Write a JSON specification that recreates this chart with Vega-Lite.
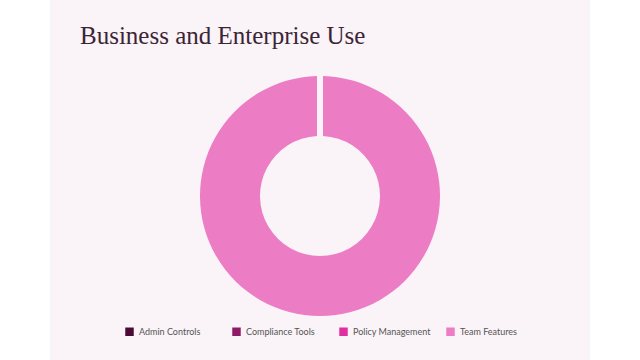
{
  "$schema": "https://vega.github.io/schema/vega-lite/v6.json",
  "width": 540,
  "height": 360,
  "autosize": "none",
  "padding": {"left": 50, "right": 50, "top": 0, "bottom": 0},
  "background": "#ffffff",
  "view": {"fill": "#faf3f7", "stroke": null},
  "config": {"view": {"fill": "#faf3f7", "stroke": null}, "style": {"cell": {"fill": "#faf3f7", "stroke": null}}},
  "title": {
    "text": "Business and Enterprise Use",
    "anchor": "start",
    "frame": "group",
    "orient": "top",
    "font": "Liberation Serif",
    "fontSize": 25,
    "fontWeight": "normal",
    "color": "#3b2535",
    "baseline": "alphabetic",
    "dx": 30,
    "dy": 73
  },
  "data": {
    "values": [
      {"category": "Admin Controls", "value": 0},
      {"category": "Compliance Tools", "value": 0},
      {"category": "Policy Management", "value": 0},
      {"category": "Team Features", "value": 100}
    ]
  },
  "mark": {
    "type": "arc",
    "outerRadius": 120,
    "innerRadius": 60,
    "padAngle": 0.045,
    "yOffset": 16
  },
  "encoding": {
    "theta": {"field": "value", "type": "quantitative", "stack": true, "scale": {"range": [0, 6.2831]}},
    "order": {"field": "category", "sort": "ascending"},
    "color": {
      "field": "category",
      "type": "nominal",
      "scale": {
        "domain": ["Admin Controls", "Compliance Tools", "Policy Management", "Team Features"],
        "range": ["#4a0b36", "#8f1a67", "#e0309f", "#ec7cc3"]
      },
      "legend": {
        "title": null,
        "orient": "none",
        "legendX": 75,
        "legendY": 327,
        "direction": "horizontal",
        "columns": 4,
        "gridAlign": "all",
        "columnPadding": 15,
        "padding": 0,
        "symbolType": "square",
        "symbolSize": 72,
        "symbolStrokeWidth": 0,
        "labelFont": "Lato",
        "labelFontSize": 9,
        "labelColor": "#555555",
        "labelOffset": 5
      }
    }
  }
}
